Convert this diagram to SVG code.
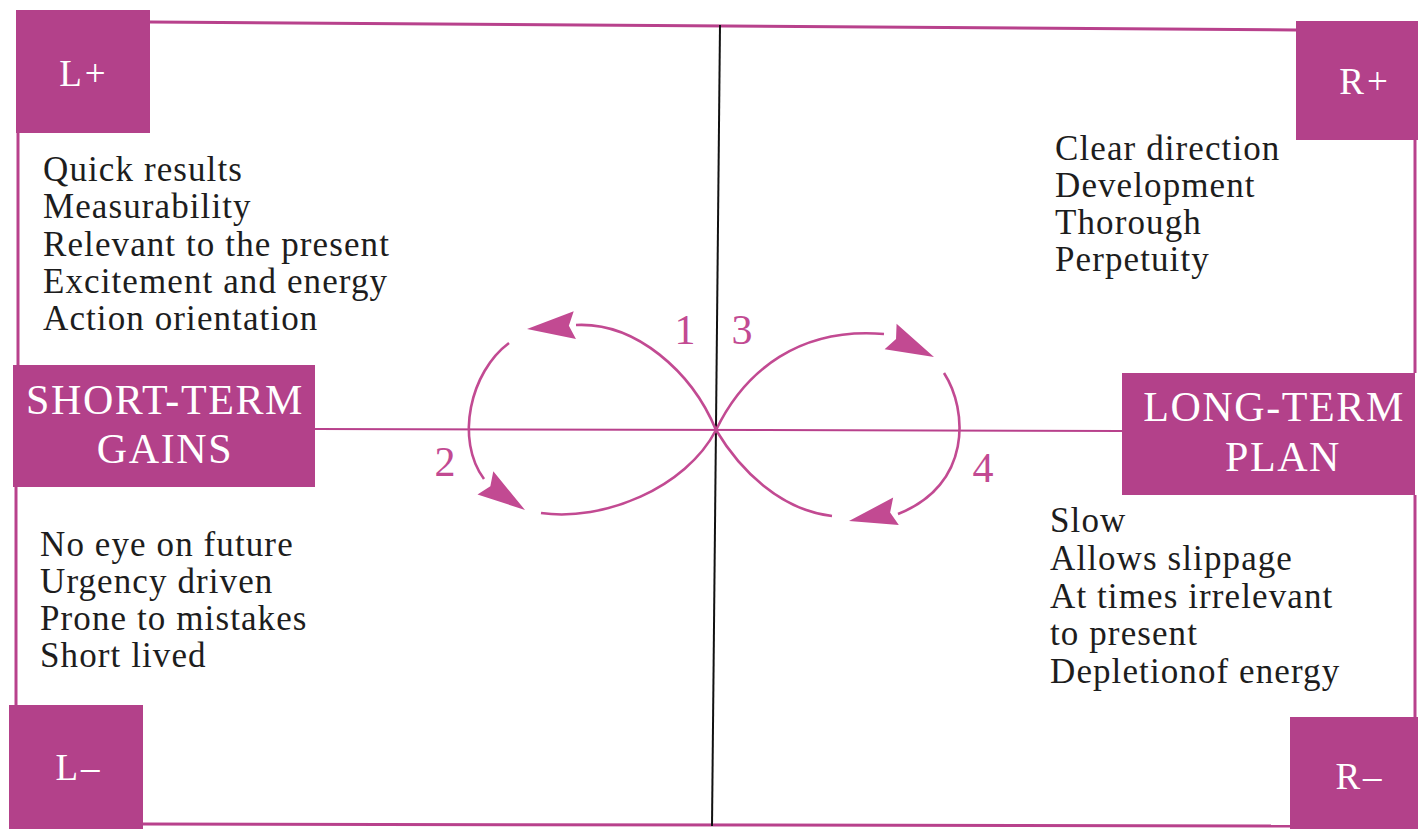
<svg xmlns="http://www.w3.org/2000/svg" xmlns:xlink="http://www.w3.org/1999/xlink" width="1418" height="829" viewBox="0 0 1418 829">
<defs>
<style>
.box{fill:#B3418A;}
.border{stroke:#B8418C;stroke-width:3;fill:none;}
.axis{stroke:#B8418C;stroke-width:2;fill:none;}
.vline{stroke:#111;stroke-width:2;fill:none;}
.loop{stroke:#C24A92;stroke-width:2.6;fill:none;}
.head{fill:#C24A92;}
.body{font-family:"Liberation Serif",serif;font-size:35px;fill:#1d1d1d;letter-spacing:1.1px;}
.lbl{font-family:"Liberation Serif",serif;font-size:42px;fill:#ffffff;letter-spacing:1.6px;text-anchor:middle;}
.corner{font-family:"Liberation Serif",serif;font-size:37px;fill:#ffffff;letter-spacing:3px;text-anchor:middle;}
.num{font-family:"Liberation Serif",serif;font-size:42px;fill:#C24A92;text-anchor:middle;}
</style>
<path id="ah" d="M0,0 L-48,-14 L-42,0 L-48,14 Z"/>
</defs>
<rect width="1418" height="829" fill="#ffffff"/>

<g id="connectors">
<line class="border" x1="150" y1="22" x2="1296" y2="30"/>
<line class="border" x1="18" y1="133" x2="18" y2="365"/>
<line class="border" x1="16" y1="487" x2="16" y2="705"/>
<line class="border" x1="1415" y1="140" x2="1415" y2="373"/>
<line class="border" x1="1415" y1="495" x2="1415" y2="717"/>
<line class="border" x1="143" y1="824" x2="1290" y2="826"/>
<line class="axis" x1="315" y1="429" x2="1122" y2="431"/>
<line class="vline" x1="720" y1="25" x2="712" y2="826"/>
<path class="loop" d="M576,325 C636,322 692,372 716,430"/>
<path class="loop" d="M509,343 C470,372 455,440 484,479"/>
<path class="loop" d="M541,513 C603,522 686,488 716,430"/>
<path class="loop" d="M716,430 C745,370 800,327 884,334"/>
<path class="loop" d="M944,373 C968,410 972,485 898,514"/>
<path class="loop" d="M716,430 C740,470 780,510 832,516"/>
<use class="head" xlink:href="#ah" href="#ah" transform="translate(527,329) rotate(175.4)"/>
<use class="head" xlink:href="#ah" href="#ah" transform="translate(525,510) rotate(34.4)"/>
<use class="head" xlink:href="#ah" href="#ah" transform="translate(934,357) rotate(25.3)"/>
<use class="head" xlink:href="#ah" href="#ah" transform="translate(849,521) rotate(168.3)"/>
<text class="num" x="685" y="344">1</text>
<text class="num" x="445" y="476">2</text>
<text class="num" x="742" y="344">3</text>
<text class="num" x="983" y="482">4</text>
</g>

<g id="node-lplus">
<rect class="box" x="16" y="10" width="134" height="123"/>
<text class="corner" x="84" y="86">L+</text>
</g>
<g id="node-rplus">
<rect class="box" x="1296" y="21" width="122" height="119"/>
<text class="corner" x="1365" y="94">R+</text>
</g>
<g id="node-lminus">
<rect class="box" x="9" y="705" width="134" height="124"/>
<text class="corner" x="79" y="780">L–</text>
</g>
<g id="node-rminus">
<rect class="box" x="1290" y="717" width="128" height="112"/>
<text class="corner" x="1360" y="789">R–</text>
</g>
<g id="node-short">
<rect class="box" x="13" y="365" width="302" height="122"/>
<text class="lbl" x="165" y="414">SHORT-TERM</text>
<text class="lbl" x="165" y="463">GAINS</text>
</g>
<g id="node-long">
<rect class="box" x="1122" y="373" width="293" height="122"/>
<text class="lbl" x="1274" y="421">LONG-TERM</text>
<text class="lbl" x="1283" y="471">PLAN</text>
</g>

<g id="text-lplus">
<text class="body" x="43" y="181">Quick results</text>
<text class="body" x="43" y="218">Measurability</text>
<text class="body" x="43" y="256">Relevant to the present</text>
<text class="body" x="43" y="293">Excitement and energy</text>
<text class="body" x="43" y="330">Action orientation</text>
</g>
<g id="text-rplus">
<text class="body" x="1055" y="160">Clear direction</text>
<text class="body" x="1055" y="197">Development</text>
<text class="body" x="1055" y="234">Thorough</text>
<text class="body" x="1055" y="271">Perpetuity</text>
</g>
<g id="text-lminus">
<text class="body" x="40" y="556">No eye on future</text>
<text class="body" x="40" y="593">Urgency driven</text>
<text class="body" x="40" y="630">Prone to mistakes</text>
<text class="body" x="40" y="667">Short lived</text>
</g>
<g id="text-rminus">
<text class="body" x="1050" y="532">Slow</text>
<text class="body" x="1050" y="570">Allows slippage</text>
<text class="body" x="1050" y="608">At times irrelevant</text>
<text class="body" x="1050" y="645">to present</text>
<text class="body" x="1050" y="683">Depletionof energy</text>
</g>
</svg>
